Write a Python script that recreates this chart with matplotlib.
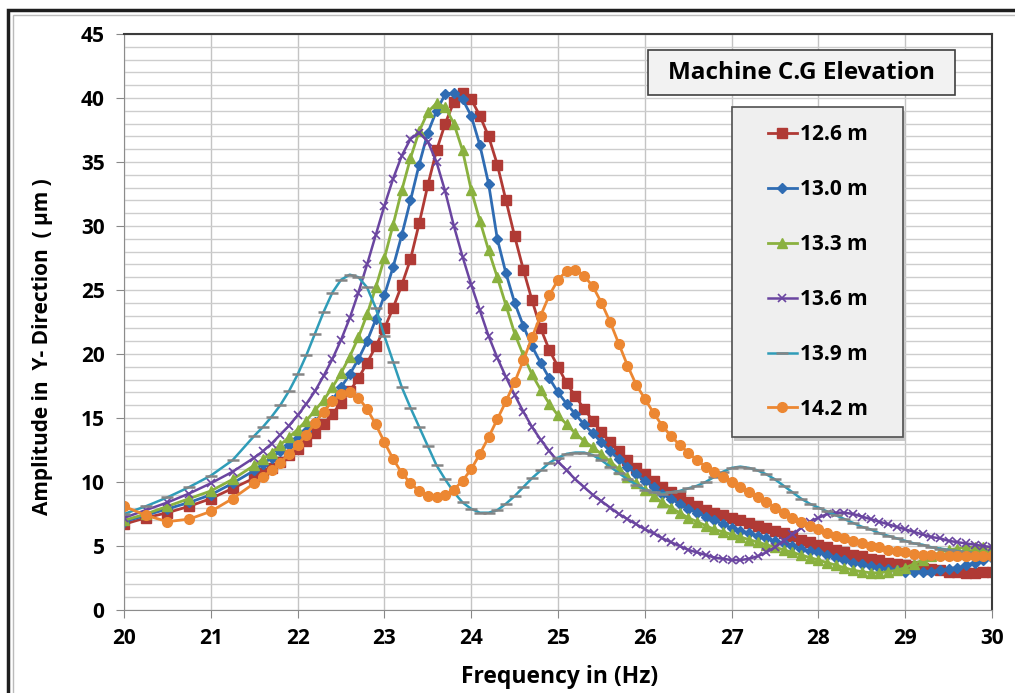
import matplotlib
matplotlib.use("Agg")
import matplotlib.pyplot as plt
from matplotlib.patches import Rectangle
from matplotlib.ticker import MultipleLocator

plt.rcParams['font.family'] = ['Open Sans', 'DejaVu Sans']

# Frequency grid (Hz): coarse at the start, 0.1 Hz afterwards
freq = [20.0, 20.25, 20.5, 20.75, 21.0, 21.25, 21.5,
        21.6, 21.7, 21.8, 21.9, 22.0,
        22.1, 22.2, 22.3, 22.4, 22.5, 22.6, 22.7, 22.8, 22.9, 23.0,
        23.1, 23.2, 23.3, 23.4, 23.5, 23.6, 23.7, 23.8, 23.9, 24.0,
        24.1, 24.2, 24.3, 24.4, 24.5, 24.6, 24.7, 24.8, 24.9, 25.0,
        25.1, 25.2, 25.3, 25.4, 25.5, 25.6, 25.7, 25.8, 25.9, 26.0,
        26.1, 26.2, 26.3, 26.4, 26.5, 26.6, 26.7, 26.8, 26.9, 27.0,
        27.1, 27.2, 27.3, 27.4, 27.5, 27.6, 27.7, 27.8, 27.9, 28.0,
        28.1, 28.2, 28.3, 28.4, 28.5, 28.6, 28.7, 28.8, 28.9, 29.0,
        29.1, 29.2, 29.3, 29.4, 29.5, 29.6, 29.7, 29.8, 29.9, 30.0]

# Amplitude (micro m) for each machine C.G elevation
amp_126 = [6.7, 7.2, 7.6, 8.1, 8.7, 9.5, 10.3,
           10.7, 11.1, 11.6, 12.1, 12.6,
           13.2, 13.8, 14.5, 15.3, 16.2, 17.1, 18.1, 19.3, 20.6, 22.0,
           23.6, 25.4, 27.4, 30.2, 33.2, 35.9, 38.0, 39.7, 40.4, 39.9,
           38.6, 37.0, 34.8, 32.0, 29.2, 26.6, 24.2, 22.0, 20.3, 19.0,
           17.7, 16.7, 15.7, 14.8, 13.9, 13.1, 12.4, 11.7, 11.1, 10.6,
           10.1, 9.6, 9.2, 8.8, 8.4, 8.1, 7.8, 7.6, 7.4, 7.2,
           7.0, 6.8, 6.6, 6.4, 6.2, 6.0, 5.8, 5.5, 5.3, 5.1,
           4.9, 4.7, 4.5, 4.3, 4.2, 4.0, 3.9, 3.7, 3.6, 3.5,
           3.4, 3.3, 3.2, 3.1, 3.0, 3.0, 2.9, 2.9, 3.0, 3.0]

amp_130 = [6.9, 7.4, 7.9, 8.4, 9.0, 9.9, 10.9,
           11.4, 11.9, 12.4, 12.9, 13.4,
           14.0, 14.7, 15.5, 16.4, 17.4, 18.4, 19.6, 21.0, 22.7, 24.6,
           26.8, 29.3, 32.0, 34.8, 37.3, 39.0, 40.3, 40.4, 39.9, 38.6,
           36.3, 33.3, 29.0, 26.3, 24.0, 22.2, 20.6, 19.3, 18.1, 17.0,
           16.1, 15.3, 14.5, 13.8, 13.1, 12.4, 11.8, 11.2, 10.6, 10.1,
           9.6, 9.1, 8.7, 8.3, 7.9, 7.6, 7.3, 7.0, 6.7, 6.4,
           6.2, 6.0, 5.8, 5.6, 5.4, 5.2, 5.0, 4.8, 4.6, 4.5,
           4.3, 4.1, 3.9, 3.7, 3.6, 3.4, 3.3, 3.2, 3.1, 3.0,
           3.0, 3.0, 3.0, 3.1, 3.2, 3.3, 3.5, 3.7, 3.9, 4.1]

amp_133 = [7.0, 7.5, 8.1, 8.7, 9.3, 10.2, 11.3,
           11.8, 12.3, 12.9, 13.5, 14.1,
           14.8, 15.6, 16.4, 17.4, 18.5, 19.8, 21.3, 23.1, 25.2, 27.5,
           30.1, 32.8, 35.3, 37.4, 38.9, 39.6, 39.3, 38.0, 35.9, 32.8,
           30.4, 28.1, 26.0, 23.8, 21.6, 19.9, 18.4, 17.2, 16.1, 15.2,
           14.5, 13.8, 13.2, 12.7, 12.2, 11.6, 11.0, 10.4, 9.9, 9.4,
           8.9, 8.4, 8.0, 7.6, 7.2, 6.9, 6.6, 6.3, 6.1, 5.9,
           5.7, 5.5, 5.3, 5.1, 4.9, 4.7, 4.5, 4.3, 4.1, 3.9,
           3.7, 3.5, 3.3, 3.1, 3.0, 2.9, 2.9, 3.0, 3.1, 3.3,
           3.6, 3.9, 4.2, 4.5, 4.7, 4.8, 4.9, 4.9, 4.9, 4.9]

amp_136 = [7.2, 7.8, 8.4, 9.1, 9.9, 10.8, 11.9,
           12.4, 13.0, 13.7, 14.4, 15.2,
           16.1, 17.1, 18.3, 19.6, 21.1, 22.8, 24.8, 27.0, 29.3, 31.6,
           33.7, 35.5, 36.8, 37.3, 36.6, 35.0, 32.7, 30.0, 27.6, 25.4,
           23.4, 21.4, 19.7, 18.2, 16.8, 15.5, 14.3, 13.3, 12.4, 11.6,
           10.9, 10.2, 9.6, 9.0, 8.5, 8.0, 7.5, 7.1, 6.7, 6.3,
           6.0, 5.6, 5.3, 5.0, 4.7, 4.5, 4.3, 4.1, 4.0, 3.9,
           3.9, 4.0, 4.2, 4.5, 4.9, 5.4, 5.9, 6.4, 6.9, 7.2,
           7.5, 7.6, 7.6, 7.5, 7.3, 7.1, 6.9, 6.7, 6.5, 6.3,
           6.1, 5.9, 5.7, 5.6, 5.4, 5.3, 5.2, 5.1, 5.0, 4.9]

amp_139 = [7.5, 8.1, 8.8, 9.6, 10.5, 11.7, 13.6,
           14.3, 15.1, 16.0, 17.1, 18.4,
           19.9, 21.6, 23.3, 24.8, 25.8, 26.2, 26.0, 25.2, 23.6, 21.4,
           19.4, 17.4, 15.8, 14.3, 12.8, 11.3, 10.2, 9.2, 8.4, 7.9,
           7.6, 7.6, 7.8, 8.3, 8.9, 9.6, 10.3, 10.9, 11.5, 11.9,
           12.2, 12.3, 12.3, 12.1, 11.7, 11.2, 10.7, 10.2, 9.8, 9.4,
           9.2, 9.1, 9.2, 9.3, 9.5, 9.7, 10.0, 10.4, 10.8, 11.1,
           11.2, 11.1, 10.9, 10.6, 10.2, 9.7, 9.2, 8.7, 8.3, 8.0,
           7.7, 7.4, 7.1, 6.8, 6.5, 6.3, 6.0, 5.8, 5.6, 5.4,
           5.2, 5.1, 4.9, 4.8, 4.7, 4.6, 4.5, 4.4, 4.3, 4.2]

amp_142 = [8.1, 7.4, 6.9, 7.1, 7.7, 8.7, 9.9,
           10.4, 10.9, 11.5, 12.2, 12.9,
           13.7, 14.6, 15.5, 16.3, 16.9, 17.0, 16.6, 15.7, 14.5, 13.1,
           11.8, 10.7, 9.9, 9.3, 8.9, 8.8, 9.0, 9.4, 10.1, 11.0,
           12.2, 13.5, 14.9, 16.3, 17.8, 19.5, 21.3, 23.0, 24.6, 25.8,
           26.5, 26.6, 26.1, 25.3, 24.0, 22.5, 20.8, 19.1, 17.6, 16.5,
           15.4, 14.4, 13.6, 12.9, 12.3, 11.7, 11.2, 10.8, 10.4, 10.0,
           9.6, 9.2, 8.8, 8.4, 8.0, 7.6, 7.2, 6.9, 6.6, 6.3,
           6.0, 5.8, 5.6, 5.4, 5.2, 5.0, 4.9, 4.7, 4.6, 4.5,
           4.4, 4.3, 4.3, 4.2, 4.2, 4.2, 4.2, 4.2, 4.2, 4.2]

labels = ['12.6 m', '13.0 m', '13.3 m', '13.6 m', '13.9 m', '14.2 m']

fig = plt.figure(figsize=(10.15, 6.93), dpi=100)
ax = fig.add_axes([0.1222, 0.1198, 0.8552, 0.8311])

ax.plot(freq, amp_126, color='#B03A35', lw=2, marker='s', ms=7, label=labels[0])
ax.plot(freq, amp_130, color='#2F6CB3', lw=2, marker='D', ms=5, label=labels[1])
ax.plot(freq, amp_133, color='#8AB13F', lw=2, marker='^', ms=6.5, label=labels[2])
ax.plot(freq, amp_136, color='#6A45A0', lw=1.8, marker='x', ms=6, mew=1.2, label=labels[3])
ax.plot(freq, amp_139, color='#2F9CB8', lw=1.8, marker='_', ms=8, mew=1.8, mec='#858585',
        label=labels[4])
ax.plot(freq, amp_142, color='#EC8732', lw=2, marker='o', ms=7, label=labels[5])

ax.set_xlim(20, 30)
ax.set_ylim(0, 45)
ax.xaxis.set_major_locator(MultipleLocator(1))
ax.yaxis.set_major_locator(MultipleLocator(5))
ax.yaxis.set_minor_locator(MultipleLocator(1))
ax.grid(True, which='major', axis='x', color='#C4C4C4', lw=1)
ax.grid(True, which='both', axis='y', color='#CDCDCD', lw=1)
ax.set_axisbelow(True)

ax.tick_params(axis='both', which='major', labelsize=15, length=6, direction='out',
               color='#888888')
ax.tick_params(axis='y', which='major', pad=8)
ax.tick_params(axis='x', which='major', pad=7)
ax.tick_params(axis='y', which='minor', length=0)
for lab in ax.get_xticklabels() + ax.get_yticklabels():
    lab.set_fontweight('bold')

for side in ['left', 'bottom']:
    ax.spines[side].set_color('#8C8C8C')
for side in ['top', 'right']:
    ax.spines[side].set_color('#3C3C3C')
    ax.spines[side].set_linewidth(1.5)

ax.set_xlabel('Frequency in (Hz)', fontsize=16.5, fontweight='bold')
ax.set_ylabel('Amplitude in  Y- Direction  ( \u00b5m )', fontsize=15, fontweight='bold')
ax.xaxis.set_label_coords(0.502, -0.096)
ax.yaxis.set_label_coords(-0.082, 0.457)

# legend title box
ax.add_patch(Rectangle((0.6037, 0.894), 0.3537, 0.078, transform=ax.transAxes,
                       fc='#F2F2F2', ec='#404040', lw=1.2, zorder=10))
ax.text(0.7805, 0.933, 'Machine C.G Elevation', transform=ax.transAxes, ha='center',
        va='center', fontsize=17.5, fontweight='bold', zorder=11)

# legend box with shadow
ax.add_patch(Rectangle((0.703, 0.294), 0.197, 0.573, transform=ax.transAxes,
                       fc='#C8C8C8', ec='none', zorder=9))
ax.add_patch(Rectangle((0.700, 0.300), 0.197, 0.573, transform=ax.transAxes,
                       fc='#EFEFEF', ec='#505050', lw=1.2, zorder=10))
leg = ax.legend(loc='center', bbox_to_anchor=(0.799, 0.587), frameon=False,
                prop={'weight': 'bold', 'size': 15}, labelspacing=1.63,
                handlelength=1.4, handletextpad=0.15)
leg.set_zorder(11)

# outer frame of the picture
fig.patches.append(Rectangle((8 / 1015, -0.1), 1.2, 1 - 10 / 693 + 0.1,
                             transform=fig.transFigure, fill=False, ec='#1E1E1E', lw=2.5))
fig.patches.append(Rectangle((13 / 1015, -0.1), 1.2, 1 - 15 / 693 + 0.1,
                             transform=fig.transFigure, fill=False, ec='#BBBBBB', lw=1))

fig.savefig('out.png', dpi=100)
